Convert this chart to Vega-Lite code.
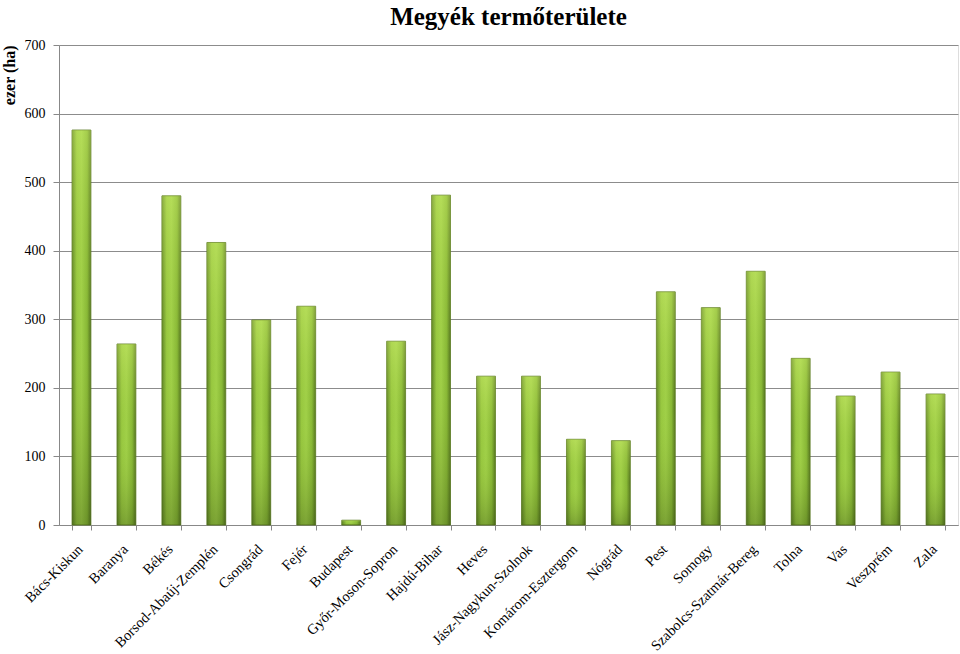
{
  "$schema": "https://vega.github.io/schema/vega-lite/v6.json",
  "width": 899,
  "height": 480,
  "autosize": "none",
  "padding": {"left": 59, "top": 45, "right": 2, "bottom": 129},
  "background": "white",
  "title": {
    "text": "Megyék termőterülete",
    "font": "Liberation Serif",
    "fontSize": 25,
    "fontWeight": "bold",
    "color": "black",
    "anchor": "middle",
    "offset": 8
  },
  "data": {
    "values": [
      {"megye": "Bács-Kiskun", "ertek": 576},
      {"megye": "Baranya", "ertek": 264},
      {"megye": "Békés", "ertek": 480},
      {"megye": "Borsod-Abaúj-Zemplén", "ertek": 412},
      {"megye": "Csongrád", "ertek": 299},
      {"megye": "Fejér", "ertek": 319},
      {"megye": "Budapest", "ertek": 7},
      {"megye": "Győr-Moson-Sopron", "ertek": 268},
      {"megye": "Hajdú-Bihar", "ertek": 481},
      {"megye": "Heves", "ertek": 217},
      {"megye": "Jász-Nagykun-Szolnok", "ertek": 217},
      {"megye": "Komárom-Esztergom", "ertek": 125},
      {"megye": "Nógrád", "ertek": 123},
      {"megye": "Pest", "ertek": 340},
      {"megye": "Somogy", "ertek": 317},
      {"megye": "Szabolcs-Szatmár-Bereg", "ertek": 370},
      {"megye": "Tolna", "ertek": 243},
      {"megye": "Vas", "ertek": 188},
      {"megye": "Veszprém", "ertek": 223},
      {"megye": "Zala", "ertek": 191}
    ]
  },
  "encoding": {
    "x": {
      "field": "megye",
      "type": "nominal",
      "sort": null,
      "scale": {"paddingInner": 0.58, "paddingOuter": 0.29},
      "axis": {
        "title": null,
        "labelAngle": -45,
        "labelAlign": "right",
        "labelBaseline": "top",
        "labelFont": "Liberation Serif",
        "labelFontSize": 14.5,
        "labelColor": "black",
        "labelPadding": 12,
        "labelOffset": -6,
        "tickBand": "extent",
        "tickColor": "#888888",
        "tickSize": 5,
        "domainColor": "#888888",
        "labelOverlap": false
      }
    },
    "y": {
      "field": "ertek",
      "type": "quantitative",
      "scale": {"domain": [0, 700]},
      "axis": {
        "title": "ezer (ha)",
        "titleFont": "Liberation Serif",
        "titleFontSize": 16,
        "titleFontWeight": "bold",
        "titleColor": "black",
        "titleAngle": -90,
        "titleAlign": "right",
        "titleBaseline": "middle",
        "titleX": -50,
        "titleY": 0,
        "values": [0, 100, 200, 300, 400, 500, 600, 700],
        "labelFont": "Liberation Serif",
        "labelFontSize": 14,
        "labelColor": "black",
        "labelPadding": 8,
        "tickColor": "#888888",
        "tickSize": 6,
        "domainColor": "#888888",
        "gridColor": "#8c8c8c",
        "gridWidth": 1,
        "grid": true
      }
    }
  },
  "layer": [
    {
      "mark": {
        "type": "bar",
        "stroke": "#5b7a22",
        "strokeWidth": 0.8,
        "color": {
          "gradient": "linear",
          "x1": 0, "y1": 0, "x2": 1, "y2": 0,
          "stops": [
            {"offset": 0, "color": "#5f8426"},
            {"offset": 0.25, "color": "#98c840"},
            {"offset": 0.5, "color": "#a0d048"},
            {"offset": 0.8, "color": "#88b836"},
            {"offset": 1, "color": "#557520"}
          ]
        }
      }
    },
    {
      "mark": {
        "type": "bar",
        "color": {
          "gradient": "linear",
          "x1": 0, "y1": 0, "x2": 0, "y2": 1,
          "stops": [
            {"offset": 0, "color": "rgba(220,245,120,0.35)"},
            {"offset": 0.5, "color": "rgba(160,200,60,0.0)"},
            {"offset": 1, "color": "rgba(40,60,10,0.3)"}
          ]
        }
      }
    }
  ]
}
